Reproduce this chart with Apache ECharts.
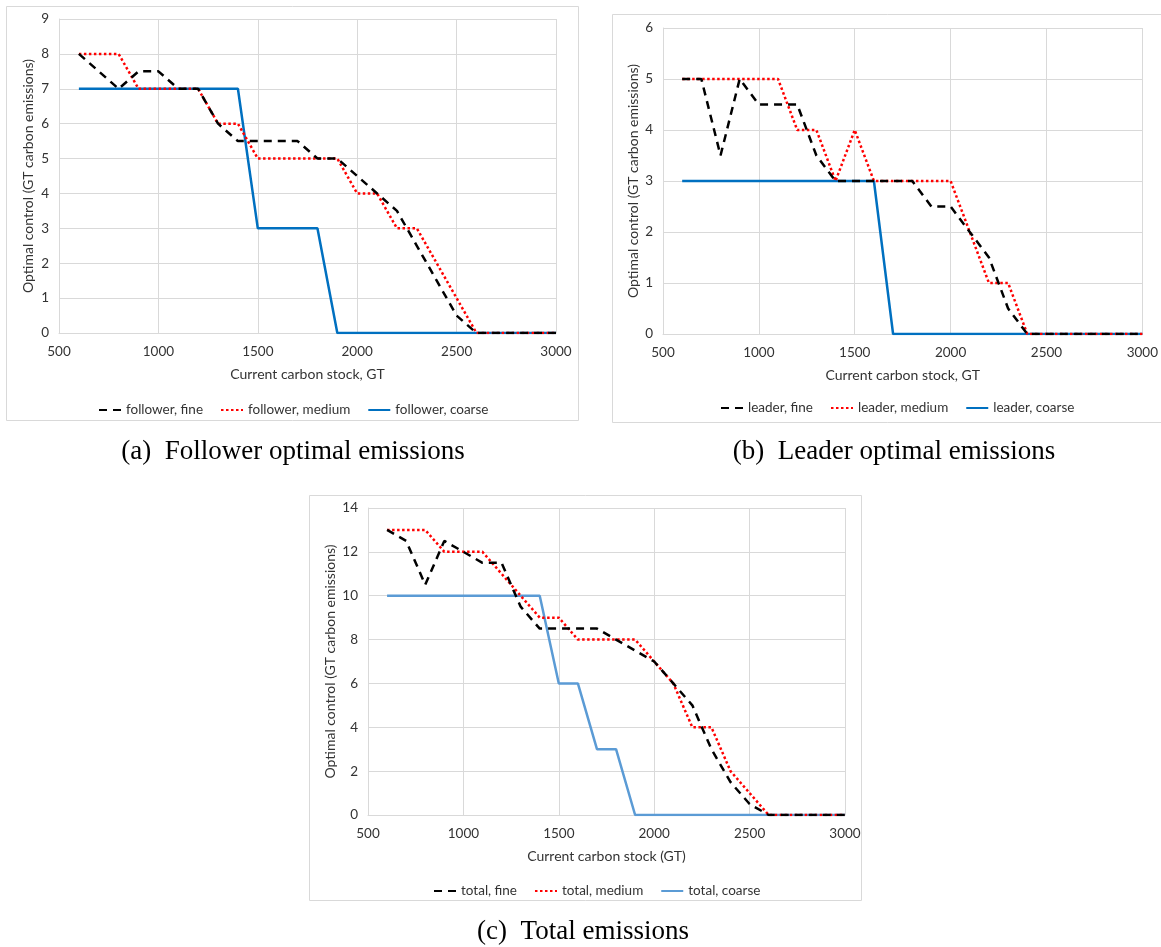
<!DOCTYPE html>
<html>
<head>
<meta charset="utf-8">
<script src="https://cdn.jsdelivr.net/npm/echarts/dist/echarts.min.js"></script>
<style>
  html, body { margin: 0; padding: 0; background: #fff; }
  #main { width: 1161px; height: 947px; }
</style>
</head>
<body>
<div id="main"></div>
<script>
// carbon stock, GT (x values shared by every series)
var stock = [600, 700, 800, 900, 1000, 1100, 1200, 1300, 1400, 1500, 1600, 1700, 1800,
             1900, 2000, 2100, 2200, 2300, 2400, 2500, 2600, 2700, 2800, 2900, 3000];
var xTicks = [500, 1000, 1500, 2000, 2500, 3000];

// (a) follower
var followerFine   = [8, 7.5, 7, 7.5, 7.5, 7, 7, 6, 5.5, 5.5, 5.5, 5.5, 5, 5, 4.5, 4, 3.5, 2.5, 1.5, 0.5, 0, 0, 0, 0, 0];
var followerMedium = [8, 8, 8, 7, 7, 7, 7, 6, 6, 5, 5, 5, 5, 5, 4, 4, 3, 3, 2, 1, 0, 0, 0, 0, 0];
var followerCoarse = [7, 7, 7, 7, 7, 7, 7, 7, 7, 3, 3, 3, 3, 0, 0, 0, 0, 0, 0, 0, 0, 0, 0, 0, 0];

// (b) leader
var leaderFine   = [5, 5, 3.5, 5, 4.5, 4.5, 4.5, 3.5, 3, 3, 3, 3, 3, 2.5, 2.5, 2, 1.5, 0.5, 0, 0, 0, 0, 0, 0, 0];
var leaderMedium = [5, 5, 5, 5, 5, 5, 4, 4, 3, 4, 3, 3, 3, 3, 3, 2, 1, 1, 0, 0, 0, 0, 0, 0, 0];
var leaderCoarse = [3, 3, 3, 3, 3, 3, 3, 3, 3, 3, 3, 0, 0, 0, 0, 0, 0, 0, 0, 0, 0, 0, 0, 0, 0];

// (c) total
var totalFine   = [13, 12.5, 10.5, 12.5, 12, 11.5, 11.5, 9.5, 8.5, 8.5, 8.5, 8.5, 8, 7.5, 7, 6, 5, 3, 1.5, 0.5, 0, 0, 0, 0, 0];
var totalMedium = [13, 13, 13, 12, 12, 12, 11, 10, 9, 9, 8, 8, 8, 8, 7, 6, 4, 4, 2, 1, 0, 0, 0, 0, 0];
var totalCoarse = [10, 10, 10, 10, 10, 10, 10, 10, 10, 6, 6, 3, 3, 0, 0, 0, 0, 0, 0, 0, 0, 0, 0, 0, 0];

var yTicksA = [0, 1, 2, 3, 4, 5, 6, 7, 8, 9];
var yTicksB = [0, 1, 2, 3, 4, 5, 6];
var yTicksC = [0, 2, 4, 6, 8, 10, 12, 14];

var FONT = 'Lato';
var GRID_C = '#d9d9d9';
var TXT = '#333333';
var CAP_FONT = '27px "Liberation Serif", serif';

function pairs(ys) {
  return stock.map(function (x, i) { return [x, ys[i]]; });
}

function xAxisFor(idx, name) {
  return {
    type: 'value', gridIndex: idx, min: xTicks[0], max: xTicks[xTicks.length - 1],
    interval: xTicks[1] - xTicks[0],
    name: name, nameLocation: 'middle', nameGap: 34,
    nameTextStyle: { fontFamily: FONT, fontSize: 14, color: TXT },
    axisLine: { show: true, lineStyle: { color: GRID_C, width: 1 } },
    axisTick: { show: false },
    axisLabel: { fontFamily: FONT, fontSize: 13.5, color: TXT, margin: 12,
                 formatter: function (v) { return String(v); } },
    splitLine: { show: true, lineStyle: { color: GRID_C, width: 1 } }
  };
}

function yAxisFor(idx, ticks, gap) {
  return {
    type: 'value', gridIndex: idx, min: ticks[0], max: ticks[ticks.length - 1],
    interval: ticks[1] - ticks[0],
    name: 'Optimal control (GT carbon emissions)', nameLocation: 'middle', nameGap: gap,
    nameTextStyle: { fontFamily: FONT, fontSize: 14, color: TXT },
    axisLine: { show: true, lineStyle: { color: GRID_C, width: 1 } },
    axisTick: { show: false },
    axisLabel: { fontFamily: FONT, fontSize: 13.5, color: TXT, margin: 10 },
    splitLine: { show: true, lineStyle: { color: GRID_C, width: 1 } }
  };
}

function line(name, idx, ys, kind, blue) {
  var ls;
  if (kind === 'fine') ls = { color: '#000', width: 2.5, type: [8, 6] };
  else if (kind === 'medium') ls = { color: '#ff0000', width: 2.5, type: [2.5, 2.5] };
  else ls = { color: blue, width: 2.5, type: 'solid' };
  return {
    name: name, type: 'line', xAxisIndex: idx, yAxisIndex: idx,
    data: pairs(ys), symbol: 'none', smooth: false,
    z: kind === 'coarse' ? 2 : (kind === 'medium' ? 3 : 4),
    lineStyle: ls, itemStyle: { color: ls.color }
  };
}

function legendFor(names, left, top) {
  return {
    data: names, left: left, top: top, orient: 'horizontal',
    itemWidth: 22, itemHeight: 12, itemGap: 17,
    itemStyle: { opacity: 0 },
    textStyle: { fontFamily: FONT, fontSize: 13.5, color: TXT }
  };
}

function frame(x, y, w, h) {
  return { type: 'rect', silent: true, shape: { x: x, y: y, width: w, height: h },
           style: { fill: 'none', stroke: GRID_C, lineWidth: 1 } };
}

function caption(text, cx, cy) {
  return { type: 'text', x: cx, y: cy, silent: true,
           style: { text: text, align: 'center', verticalAlign: 'middle', font: CAP_FONT, fill: '#000' } };
}

var myChart = echarts.init(document.getElementById('main'));

var option = {
  animation: false,
  backgroundColor: '#fff',
  grid: [
    { left: 59, top: 19, width: 497, height: 314 },
    { left: 663, top: 28, width: 484, height: 306 },
    { left: 368, top: 508, width: 477, height: 307 }
  ],
  xAxis: [
    xAxisFor(0, 'Current carbon stock, GT'),
    xAxisFor(1, 'Current carbon stock, GT'),
    xAxisFor(2, 'Current carbon stock (GT)')
  ],
  yAxis: [
    yAxisFor(0, yTicksA, 24),
    yAxisFor(1, yTicksB, 23),
    yAxisFor(2, yTicksC, 31)
  ],
  legend: [
    legendFor(['follower, fine', 'follower, medium', 'follower, coarse'], 93, 398),
    legendFor(['leader, fine', 'leader, medium', 'leader, coarse'], 715, 396),
    legendFor(['total, fine', 'total, medium', 'total, coarse'], 428, 879)
  ],
  series: [
    line('follower, fine', 0, followerFine, 'fine'),
    line('follower, medium', 0, followerMedium, 'medium'),
    line('follower, coarse', 0, followerCoarse, 'coarse', '#0070c0'),
    line('leader, fine', 1, leaderFine, 'fine'),
    line('leader, medium', 1, leaderMedium, 'medium'),
    line('leader, coarse', 1, leaderCoarse, 'coarse', '#0070c0'),
    line('total, fine', 2, totalFine, 'fine'),
    line('total, medium', 2, totalMedium, 'medium'),
    line('total, coarse', 2, totalCoarse, 'coarse', '#5b9bd5')
  ],
  graphic: [
    frame(6.5, 6.5, 572, 414),
    frame(612.5, 14.5, 560, 408),
    frame(309.5, 495.5, 552, 405),
    caption('(a)  Follower optimal emissions', 293, 452),
    caption('(b)  Leader optimal emissions', 894, 452),
    caption('(c)  Total emissions', 583, 932)
  ]
};

myChart.setOption(option);
</script>
</body>
</html>
